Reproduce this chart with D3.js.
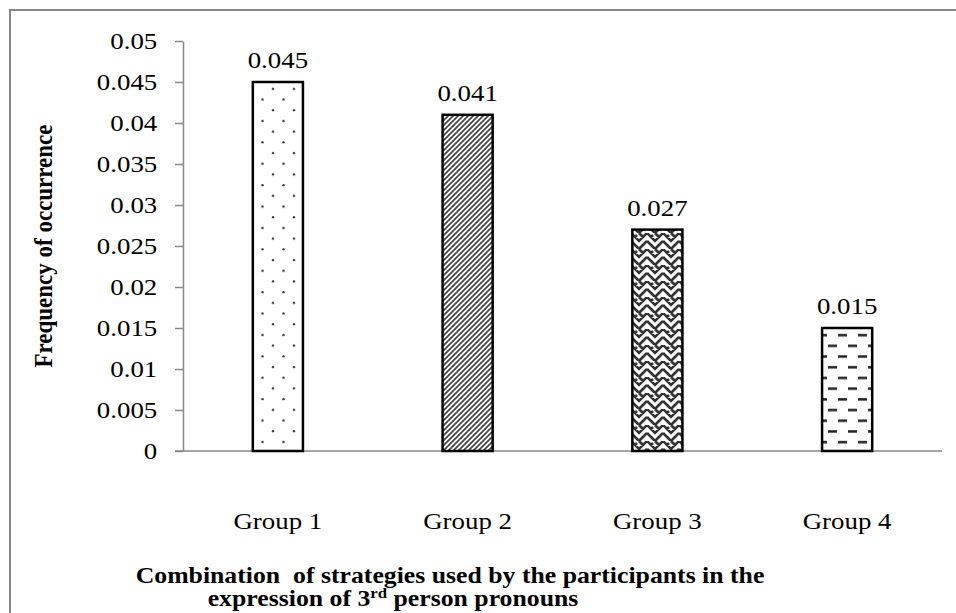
<!DOCTYPE html>
<html>
<head>
<meta charset="utf-8">
<script src="https://cdn.jsdelivr.net/npm/d3@7"></script>
<style>
  body { margin: 0; background: #fff; }
  text { font-family: "Liberation Serif", "Times New Roman", serif; fill: #000; }
</style>
</head>
<body>
<div id="chart"></div>
<script>
/* chart data */
let groups = ["Group 1", "Group 2", "Group 3", "Group 4"];
let values = [0.045, 0.041, 0.027, 0.015];
let valueLabels = ["0.045", "0.041", "0.027", "0.015"];
let yTicks = [0, 0.005, 0.01, 0.015, 0.02, 0.025, 0.03, 0.035, 0.04, 0.045, 0.05];
let yTitle = "Frequency of occurrence";

/* dimensions */
let width = 956;
let height = 613;
let margin = {top: 41, left: 183, right: 14, bottom: 162};
let pWidth = width - margin.left - margin.right;
let pHeight = height - margin.top - margin.bottom;
let stretch = 1.12;   // reference text is a little wider than it is tall
let fontSize = 24;
let axisColor = "#898989";

let svg = d3.select("#chart")
            .append("svg")
              .attr("width", width)
              .attr("height", height);

// outer frame (right and bottom sides fall outside the picture)
svg.append("rect")
   .attr("x", 10).attr("y", 10)
   .attr("width", width + 20).attr("height", height + 20)
   .attr("fill", "none")
   .attr("stroke", "#888")
   .attr("stroke-width", 2);

/* fill patterns */
let defs = svg.append("defs");

let pDots = defs.append("pattern")
  .attr("id", "p-dots").attr("patternUnits", "userSpaceOnUse")
  .attr("width", 21).attr("height", 21.4);
pDots.append("circle").attr("cx", 6).attr("cy", 5).attr("r", 1.2).attr("fill", "#333");
pDots.append("circle").attr("cx", 16.5).attr("cy", 15.7).attr("r", 1.2).attr("fill", "#333");

let pStripes = defs.append("pattern")
  .attr("id", "p-stripes").attr("patternUnits", "userSpaceOnUse")
  .attr("width", 5).attr("height", 5);
pStripes.append("path")
  .attr("d", "M0,5 L5,0 M-1,1 L1,-1 M4,6 L6,4")
  .attr("stroke", "#444").attr("stroke-width", 1.7);

let pWeave = defs.append("pattern")
  .attr("id", "p-weave").attr("patternUnits", "userSpaceOnUse")
  .attr("width", 16).attr("height", 16);
pWeave.append("path")
  .attr("d", "M0,0 L8,8 L16,0 M0,8 L4,12 M12,12 L16,8 M4,12 L8,16 L12,12 M8,0 L12,4 M4,4 L6,2")
  .attr("stroke", "#333").attr("stroke-width", 2.6).attr("fill", "none");

let pDashes = defs.append("pattern")
  .attr("id", "p-dashes").attr("patternUnits", "userSpaceOnUse")
  .attr("width", 20).attr("height", 21.4);
pDashes.append("rect").attr("x", 5).attr("y", 4).attr("width", 9).attr("height", 2.5).attr("fill", "#222");
pDashes.append("rect").attr("x", 15).attr("y", 14.7).attr("width", 9).attr("height", 2.5).attr("fill", "#222");
pDashes.append("rect").attr("x", -5).attr("y", 14.7).attr("width", 9).attr("height", 2.5).attr("fill", "#222");

let fills = ["url(#p-dots)", "url(#p-stripes)", "url(#p-weave)", "url(#p-dashes)"];

/* scales */
let xScale = d3.scaleBand()
               .domain(groups)
               .range([0, pWidth])
               .paddingInner(0.736)
               .paddingOuter(0.368);

let yScale = d3.scaleLinear()
               .domain([0, 0.05])
               .range([pHeight, 0]);

let plot = svg.append("g")
              .attr("transform", `translate(${margin.left}, ${margin.top})`);

// y axis
let yAxis = plot.append("g")
  .call(d3.axisLeft(yScale).tickValues(yTicks).tickSize(8).tickSizeOuter(0)
          .tickFormat(d => d3.format("")(+d.toFixed(3))));
yAxis.selectAll("path, line").attr("stroke", axisColor).attr("stroke-width", 1.5);
yAxis.selectAll("text")
     .attr("font-size", fontSize)
     .attr("font-family", "Liberation Serif")
     .attr("x", -23)
     .attr("dy", "0.33em")
     .attr("transform", `scale(${stretch},1)`);

// x axis baseline
plot.append("line")
    .attr("x1", -8).attr("x2", pWidth)
    .attr("y1", yScale(0)).attr("y2", yScale(0))
    .attr("stroke", axisColor).attr("stroke-width", 1.5);

// bars
plot.selectAll(".bar")
    .data(values)
    .enter()
    .append("rect")
      .attr("class", "bar")
      .attr("x", (d, i) => xScale(groups[i]))
      .attr("y", d => yScale(d))
      .attr("width", xScale.bandwidth())
      .attr("height", d => yScale(0) - yScale(d))
      .attr("fill", (d, i) => fills[i])
      .attr("stroke", "#000")
      .attr("stroke-width", 2.5);

// helper for stretched text
function stretchedText(parent, x, y, str, opts) {
  let g = parent.append("g")
                .attr("transform", `translate(${x}, ${y}) scale(${opts.sx || stretch}, 1)`);
  return g.append("text")
          .attr("text-anchor", opts.anchor || "middle")
          .attr("font-size", opts.size || fontSize)
          .attr("font-weight", opts.bold ? "bold" : "normal")
          .text(str);
}

// value labels
values.forEach((d, i) => {
  let cx = xScale(groups[i]) + xScale.bandwidth() / 2;
  stretchedText(plot, cx, yScale(d) - 14, valueLabels[i], {});
});

// category labels
groups.forEach(g => {
  let cx = xScale(g) + xScale.bandwidth() / 2;
  stretchedText(plot, cx, pHeight + 78, g, {});
});

// y axis title
let yt = svg.append("g").attr("transform", "translate(52, 246) rotate(-90)");
yt.append("g").attr("transform", `scale(1, ${stretch})`)
  .append("text")
    .attr("text-anchor", "middle")
    .attr("font-size", 23)
    .attr("font-weight", "bold")
    .text(yTitle);

// x axis title
stretchedText(svg, 450, 583, "Combination\u00a0 of strategies used by the participants in the", {bold: true, size: 23});
let line2 = svg.append("g")
               .attr("transform", `translate(393, 606) scale(${stretch}, 1)`)
               .append("text")
                 .attr("text-anchor", "middle")
                 .attr("font-size", 23)
                 .attr("font-weight", "bold");
line2.append("tspan").text("expression of 3");
line2.append("tspan").attr("dy", -8).attr("font-size", 15).text("rd");
line2.append("tspan").attr("dy", 8).text(" person pronouns");
</script>
</body>
</html>
